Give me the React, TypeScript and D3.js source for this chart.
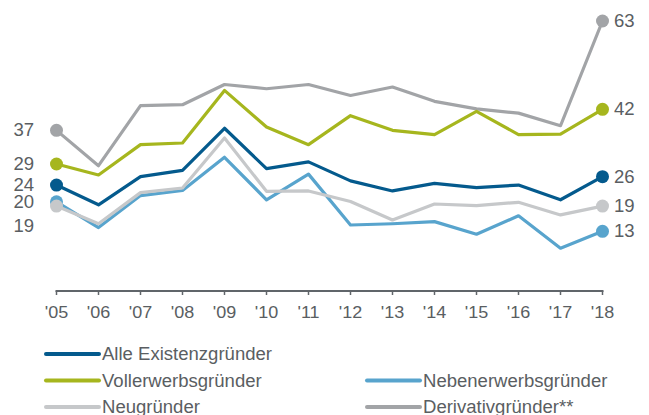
import * as d3 from "d3";

const years = ["'05", "'06", "'07", "'08", "'09", "'10", "'11", "'12", "'13", "'14", "'15", "'16", "'17", "'18"];

const alle = [24, 19.3, 26, 27.5, 37.5, 27.9, 29.5, 25, 22.6, 24.4, 23.4, 24, 20.5, 26];
const voll = [29, 26.4, 33.6, 34, 46.5, 37.8, 33.6, 40.5, 37, 36, 41.5, 36, 36.1, 42];
const neben = [20, 13.9, 21.5, 22.7, 30.6, 20.5, 26.6, 14.5, 14.8, 15.3, 12.3, 16.7, 9, 13];
const neu = [19, 14.8, 22.2, 23.3, 35.2, 22.5, 22.6, 20.1, 15.7, 19.5, 19.1, 19.9, 16.9, 19];
const deriv = [37, 28.6, 42.9, 43.1, 47.9, 46.9, 47.9, 45.3, 47.3, 43.9, 42.1, 41.1, 38.1, 63];

// drawing order: back to front
const series = [
  { name: "Derivativgründer**", values: deriv, color: "#a2a4a7" },
  { name: "Vollerwerbsgründer", values: voll, color: "#a6b61e" },
  { name: "Nebenerwerbsgründer", values: neben, color: "#58a4cd" },
  { name: "Neugründer", values: neu, color: "#c6c8ca" },
  { name: "Alle Existenzgründer", values: alle, color: "#045a8d" },
];

const legendRows = [
  [{ name: "Alle Existenzgründer", color: "#045a8d" }],
  [
    { name: "Vollerwerbsgründer", color: "#a6b61e" },
    { name: "Nebenerwerbsgründer", color: "#58a4cd" },
  ],
  [
    { name: "Neugründer", color: "#c6c8ca" },
    { name: "Derivativgründer**", color: "#a2a4a7" },
  ],
];

const textColor = "#5a5e62";
const font = "'Liberation Sans', Arial, sans-serif";

// text in the source is a bit wider than plain Arial
function Label(props: { x: number; y: number; anchor?: string; size?: number; children: any }) {
  const { x, y, anchor = "start", size = 17.5, children } = props;
  return (
    <text
      transform={`translate(${x},${y}) scale(1.06,1)`}
      dy="0.35em"
      textAnchor={anchor}
      fontSize={size}
      fill={textColor}
    >
      {children}
    </text>
  );
}

export default function App() {
  const width = 649;
  const height = 415;
  const x = d3.scalePoint<string>().domain(years).range([56.5, 602.5]);
  const y = d3.scaleLinear().domain([0, 63]).range([286, 21]);
  const line = d3
    .line<number>()
    .x((_, i) => x(years[i])!)
    .y((d) => y(d));

  const axisY = 291;
  const xFirst = x(years[0])!;
  const xLast = x(years[years.length - 1])!;

  return (
    <svg
      width={width}
      height={height}
      style={{ position: "absolute", left: 0, top: 0 }}
      fontFamily={font}
    >
      <rect width={width} height={height} fill="#fff" />
      {/* x axis */}
      <line x1={xFirst - 1} x2={xLast + 1} y1={axisY} y2={axisY} stroke="#60656a" strokeWidth={2} />
      {years.map((yr) => (
        <g key={yr}>
          <line x1={x(yr)} x2={x(yr)} y1={axisY} y2={axisY + 4} stroke="#60656a" strokeWidth={1.5} />
          <Label x={x(yr)!} y={312} anchor="middle" size={17}>
            {yr}
          </Label>
        </g>
      ))}

      {series.map((s) => (
        <g key={s.name}>
          <path d={line(s.values) ?? ""} fill="none" stroke={s.color} strokeWidth={3.2} strokeLinejoin="round" />
          <circle cx={xFirst} cy={y(s.values[0])} r={6.5} fill={s.color} />
          <circle cx={xLast} cy={y(s.values[s.values.length - 1])} r={6.5} fill={s.color} />
        </g>
      ))}

      {/* start labels */}
      {series.map((s) => (
        <Label key={"l" + s.name} x={34} y={y(s.values[0]) + (s.name === "Neugründer" ? 20 : 0)} anchor="end">
          {Math.round(s.values[0])}
        </Label>
      ))}
      {/* end labels */}
      {series.map((s) => (
        <Label key={"r" + s.name} x={614} y={y(s.values[s.values.length - 1])}>
          {Math.round(s.values[s.values.length - 1])}
        </Label>
      ))}

      {/* legend */}
      {legendRows.map((row, ri) =>
        row.map((item, ci) => {
          const lx = ci === 0 ? 46 : 367;
          const ly = 354 + ri * 26.5;
          return (
            <g key={item.name}>
              <line x1={lx} x2={lx + 53} y1={ly} y2={ly} stroke={item.color} strokeWidth={4} strokeLinecap="round" />
              <Label x={lx + 56} y={ly}>
                {item.name}
              </Label>
            </g>
          );
        })
      )}
    </svg>
  );
}
